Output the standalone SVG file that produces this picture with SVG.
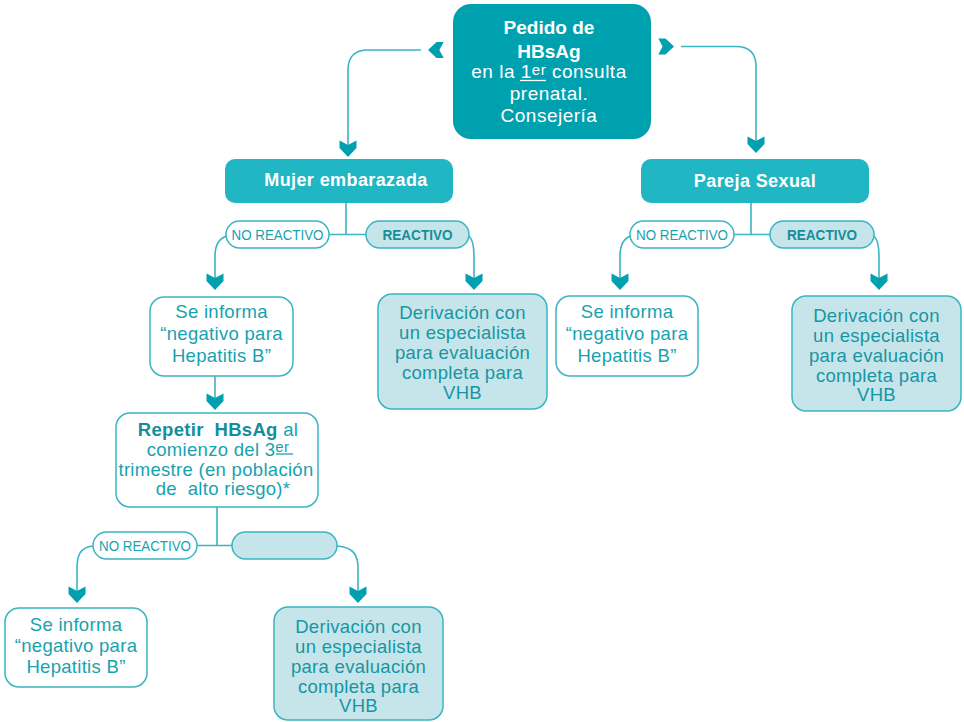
<svg xmlns="http://www.w3.org/2000/svg" xmlns:xlink="http://www.w3.org/1999/xlink" width="964" height="722" viewBox="0 0 964 722">
  <style>
    .t { font-family: "Liberation Sans", Arial, sans-serif; text-anchor: middle; }
    .main { fill: #ffffff; font-size: 19px; letter-spacing: 0.5px; }
    .mainb { fill: #ffffff; font-size: 19px; font-weight: bold; }
    .head { fill: #ffffff; font-size: 18px; font-weight: bold; letter-spacing: 0.4px; }
    .body { fill: #17a2b0; font-size: 18.5px; letter-spacing: 0.3px; }
    .bodyd { fill: #1696a4; font-size: 18.5px; letter-spacing: 0.3px; }
    .nr { fill: #17a2b0; font-size: 15px; }
    .re { fill: #158e9c; font-size: 15px; font-weight: bold; }
    .box { fill: #ffffff; stroke: #3ab5c2; stroke-width: 1.5; }
    .boxl { fill: #c6e5ea; stroke: #3ab5c2; stroke-width: 1.5; }
    .hdr { fill: #21b6c4; }
    .pill { fill: #ffffff; stroke: #3ab5c2; stroke-width: 1.5; }
    .pilll { fill: #c6e5ea; stroke: #3ab5c2; stroke-width: 1.5; }
    .ln { fill: none; stroke: #3ab5c2; stroke-width: 1.6; }
    .ul { stroke-width: 1.3; }
  </style>
  <defs>
    <!-- notched arrowhead, tip at origin, pointing down -->
    <path id="ah" d="M0,0 L-8.5,-9 L-8.5,-16.5 L0,-12 L8.5,-16.5 L8.5,-9 Z" fill="#00a0ae"/>
  </defs>

  <!-- connectors -->
  <g id="connectors">
    <path class="ln" d="M421,50 H368 Q348,50 348,70 V150"/>
    <path class="ln" d="M681,46.5 H736 Q756,46.5 756,66.5 V146"/>
    <path class="ln" d="M346,203 V234.5 M329,234.5 H366"/>
    <path class="ln" d="M226.5,236 Q215,240 215,256 V284"/>
    <path class="ln" d="M469,236 Q474,241 474,256 V284"/>
    <path class="ln" d="M751,203 V234.5 M734,234.5 H770"/>
    <path class="ln" d="M630.5,236 Q620,240 620,256 V284"/>
    <path class="ln" d="M874,236 Q879,241 879,256 V284"/>
    <path class="ln" d="M215,376 V404"/>
    <path class="ln" d="M217,507 V545.5 M197,545.5 H232"/>
    <path class="ln" d="M93,546 C80,547 77,556 77,568 V597"/>
    <path class="ln" d="M337,546 C354,547 358,556 358,568 V597"/>
    <use xlink:href="#ah" transform="translate(428,50) rotate(90) scale(0.95)"/>
    <use xlink:href="#ah" transform="translate(674,46.5) rotate(-90) scale(0.95)"/>
    <use xlink:href="#ah" transform="translate(348,157)"/>
    <use xlink:href="#ah" transform="translate(756,153)"/>
    <use xlink:href="#ah" transform="translate(215,290)"/>
    <use xlink:href="#ah" transform="translate(474,290)"/>
    <use xlink:href="#ah" transform="translate(620,290)"/>
    <use xlink:href="#ah" transform="translate(879,290)"/>
    <use xlink:href="#ah" transform="translate(215,410)"/>
    <use xlink:href="#ah" transform="translate(77,603)"/>
    <use xlink:href="#ah" transform="translate(358,603)"/>
  </g>

  <!-- start node -->
  <g id="pedido">
    <rect x="453" y="4" width="198" height="135" rx="18" fill="#00a1af"/>
    <text class="t mainb" x="549" y="34">Pedido de</text>
    <text class="t mainb" x="549" y="58">HBsAg</text>
    <text class="t main" x="549" y="78">en la 1<tspan font-size="15" dy="-3">er</tspan><tspan dy="3"> consulta</tspan></text>
    <line class="ul" x1="520" y1="80.5" x2="546" y2="80.5" stroke="#ffffff"/>
    <text class="t main" x="549" y="100">prenatal.</text>
    <text class="t main" x="549" y="122">Consejería</text>
  </g>

  <g id="mujer">
    <rect class="hdr" x="225" y="159" width="228" height="44" rx="10"/>
    <text class="t head" x="346" y="186">Mujer embarazada</text>
  </g>

  <g id="pareja">
    <rect class="hdr" x="641" y="159" width="228" height="44" rx="10"/>
    <text class="t head" x="755" y="187">Pareja Sexual</text>
  </g>

  <!-- result pills -->
  <g id="nr-mujer">
    <rect class="pill" x="226" y="221" width="103" height="27" rx="13.5"/>
    <text class="t nr" x="277.5" y="240" textLength="92" lengthAdjust="spacingAndGlyphs">NO REACTIVO</text>
  </g>
  <g id="r-mujer">
    <rect class="pilll" x="366" y="221" width="103" height="27" rx="13.5"/>
    <text class="t re" x="417.5" y="240" textLength="70" lengthAdjust="spacingAndGlyphs">REACTIVO</text>
  </g>
  <g id="nr-pareja">
    <rect class="pill" x="630" y="221" width="104" height="27" rx="13.5"/>
    <text class="t nr" x="682" y="240" textLength="92" lengthAdjust="spacingAndGlyphs">NO REACTIVO</text>
  </g>
  <g id="r-pareja">
    <rect class="pilll" x="770" y="221" width="104" height="27" rx="13.5"/>
    <text class="t re" x="822" y="240" textLength="70" lengthAdjust="spacingAndGlyphs">REACTIVO</text>
  </g>
  <g id="nr-repetir">
    <rect class="pill" x="93" y="532" width="104" height="27" rx="13.5"/>
    <text class="t nr" x="145" y="551" textLength="92" lengthAdjust="spacingAndGlyphs">NO REACTIVO</text>
  </g>
  <g id="r-repetir">
    <rect class="pilll" x="232" y="532" width="105" height="27" rx="13.5"/>
  </g>

  <!-- outcome boxes -->
  <g id="informa-mujer">
    <rect class="box" x="150" y="297" width="143" height="79" rx="14"/>
    <text class="t body" x="221.5" y="318">Se informa</text>
    <text class="t body" x="221.5" y="340">“negativo para</text>
    <text class="t body" x="221.5" y="362">Hepatitis B”</text>
  </g>

  <g id="derivacion-mujer">
    <rect class="boxl" x="378" y="294" width="169" height="115" rx="14"/>
    <text class="t bodyd" x="462.5" y="319">Derivación con</text>
    <text class="t bodyd" x="462.5" y="339">un especialista</text>
    <text class="t bodyd" x="462.5" y="359">para evaluación</text>
    <text class="t bodyd" x="462.5" y="379">completa para</text>
    <text class="t bodyd" x="462.5" y="399">VHB</text>
  </g>

  <g id="informa-pareja">
    <rect class="box" x="556" y="296" width="142" height="80" rx="14"/>
    <text class="t body" x="627" y="318">Se informa</text>
    <text class="t body" x="627" y="340">“negativo para</text>
    <text class="t body" x="627" y="362">Hepatitis B”</text>
  </g>

  <g id="derivacion-pareja">
    <rect class="boxl" x="792" y="296" width="169" height="115" rx="14"/>
    <text class="t bodyd" x="876.5" y="322">Derivación con</text>
    <text class="t bodyd" x="876.5" y="342">un especialista</text>
    <text class="t bodyd" x="876.5" y="362">para evaluación</text>
    <text class="t bodyd" x="876.5" y="382">completa para</text>
    <text class="t bodyd" x="876.5" y="401">VHB</text>
  </g>

  <g id="repetir">
    <rect class="box" x="116" y="413" width="202" height="94" rx="14"/>
    <text class="t body" x="218" y="436" xml:space="preserve"><tspan font-weight="bold" fill="#158e9c">Repetir  HBsAg</tspan> al</text>
    <text class="t body" x="218" y="456">comienzo del 3<tspan font-size="15" dy="-4">er</tspan></text>
    <line class="ul" x1="276" y1="454" x2="293" y2="454" stroke="#17a2b0"/>
    <text class="t body" x="216" y="476">trimestre (en población</text>
    <text class="t body" x="223" y="495" xml:space="preserve">de  alto riesgo)*</text>
  </g>

  <g id="informa-repetir">
    <rect class="box" x="5" y="608" width="142" height="79" rx="14"/>
    <text class="t body" x="76" y="631">Se informa</text>
    <text class="t body" x="76" y="652">“negativo para</text>
    <text class="t body" x="76" y="673">Hepatitis B”</text>
  </g>

  <g id="derivacion-repetir">
    <rect class="boxl" x="274" y="607" width="169" height="113" rx="14"/>
    <text class="t bodyd" x="358.5" y="633">Derivación con</text>
    <text class="t bodyd" x="358.5" y="653">un especialista</text>
    <text class="t bodyd" x="358.5" y="673">para evaluación</text>
    <text class="t bodyd" x="358.5" y="693">completa para</text>
    <text class="t bodyd" x="358.5" y="712">VHB</text>
  </g>
</svg>
